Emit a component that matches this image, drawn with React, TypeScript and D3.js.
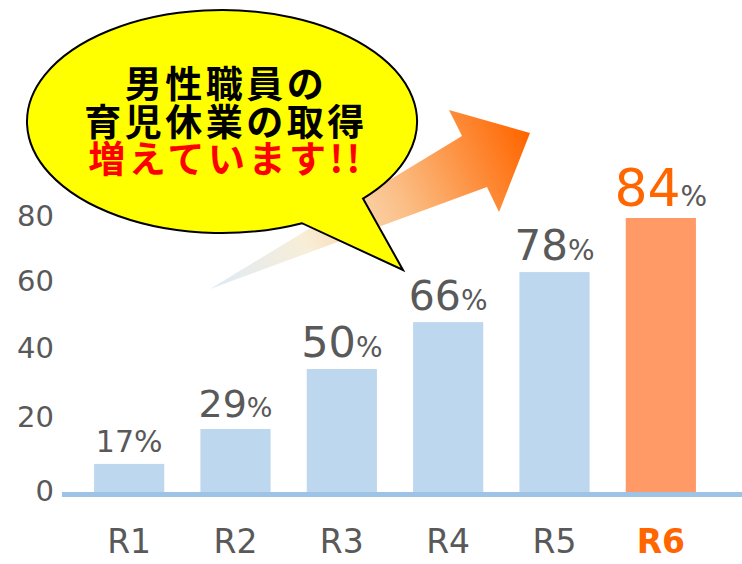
import React from "react";
import * as d3 from "d3";

const categories = ["R1", "R2", "R3", "R4", "R5", "R6"];
const barValues = [8.2, 18.4, 35.9, 49.6, 64.2, 80];
const percentLabels = ["17", "29", "50", "66", "78", "84"];
const tickValues = [0, 20, 40, 60, 80];
const bubbleLines = ["男性職員の", "育児休業の取得", "増えています!!"];

// style (sizes) per label, kept apart from data
const numSizes = [30, 38, 43, 41, 42, 52];
const pctSizes = [30, 27, 28, 28, 28, 28];

const W = 742;
const H = 564;
const GRAY = "#595959";
const ORANGE = "#FF6600";

export default function App() {
  const x = d3.scaleBand<string>().domain(categories).range([76, 714]).paddingInner(0.34).paddingOuter(0.17);
  const y = d3.scaleLinear().domain([0, 80]).range([492, 218]);
  const yTick = d3.scalePow().exponent(0.945).domain([0, 80]).range([490.7, 216]);

  const cx = 222, cy = 121.5, rx = 195, ry = 111.5;
  const onEllipse = (px: number) => {
    const dx = (px - cx) / rx;
    return cy + ry * Math.sqrt(Math.max(0, 1 - dx * dx));
  };
  const b1x = 302, b2x = 363;
  const b1 = [b1x, onEllipse(b1x)];
  const b2 = [b2x, onEllipse(b2x)];
  const tip = [403, 270];
  const bubblePath = `M${b2[0]},${b2[1]} L${tip[0]},${tip[1]} L${b1[0]},${b1[1]} A${rx},${ry} 0 1 1 ${b2[0]},${b2[1]} Z`;

  const arrowPts: [number, number][] = [
    [210, 289], [462, 136], [449, 110], [530, 133], [499, 212], [487, 187],
  ];
  const arrowPath = d3.line()(arrowPts) + "Z";

  const lineYs = [82, 120, 157];
  const lineColors = ["#000000", "#000000", "#FF0000"];

  return (
    <svg width={W} height={H} style={{ position: "absolute", left: 0, top: 0, background: "#fff" }}>
      <defs>
        <linearGradient id="arrowGrad" gradientUnits="userSpaceOnUse" x1={210} y1={289} x2={530} y2={140}>
          <stop offset="0" stopColor="#DDEAF6" />
          <stop offset="0.3" stopColor="#F8EED8" />
          <stop offset="0.6" stopColor="#FBBE85" />
          <stop offset="1" stopColor="#FF6600" />
        </linearGradient>
      </defs>

      {tickValues.map((t) => (
        <text key={t} x={54} y={yTick(t)} textAnchor="end" dominantBaseline="central"
          fontFamily="'DejaVu Sans', sans-serif" fontSize={29} fill={GRAY}>{t}</text>
      ))}

      {categories.map((c, i) => (
        <rect key={c} x={x(c)} y={y(barValues[i])} width={x.bandwidth()} height={y(0) - y(barValues[i]) + 2}
          fill={i === 5 ? "#FF9966" : "#BDD7EE"} />
      ))}

      <line x1={62} x2={742} y1={494.5} y2={494.5} stroke="#9DC3E6" strokeWidth={5} />

      {categories.map((c, i) => (
        <text key={c} x={(x(c) as number) + x.bandwidth() / 2} y={y(barValues[i]) - 12} textAnchor="middle"
          fontFamily="'DejaVu Sans', sans-serif" fill={i === 5 ? ORANGE : GRAY}>
          <tspan fontSize={numSizes[i]}>{percentLabels[i]}</tspan>
          <tspan fontSize={pctSizes[i]} fill={GRAY}>%</tspan>
        </text>
      ))}

      {categories.map((c, i) => (
        <text key={c} x={(x(c) as number) + x.bandwidth() / 2} y={553} textAnchor="middle"
          fontFamily="'DejaVu Sans', sans-serif" fontSize={33}
          fontWeight={i === 5 ? 700 : 400} fill={i === 5 ? ORANGE : GRAY}>{c}</text>
      ))}

      <path d={arrowPath} fill="url(#arrowGrad)" />

      <path d={bubblePath} fill="#FFFF00" stroke="#000" strokeWidth={2} strokeLinejoin="miter" />
      {bubbleLines.map((l, i) => (
        <text key={i} x={226} y={lineYs[i]} textAnchor="middle" dominantBaseline="central"
          fontFamily="'Noto Sans CJK JP', sans-serif" fontWeight={700} fontSize={37}
          letterSpacing={3.5} fill={lineColors[i]}>{l}</text>
      ))}
    </svg>
  );
}
